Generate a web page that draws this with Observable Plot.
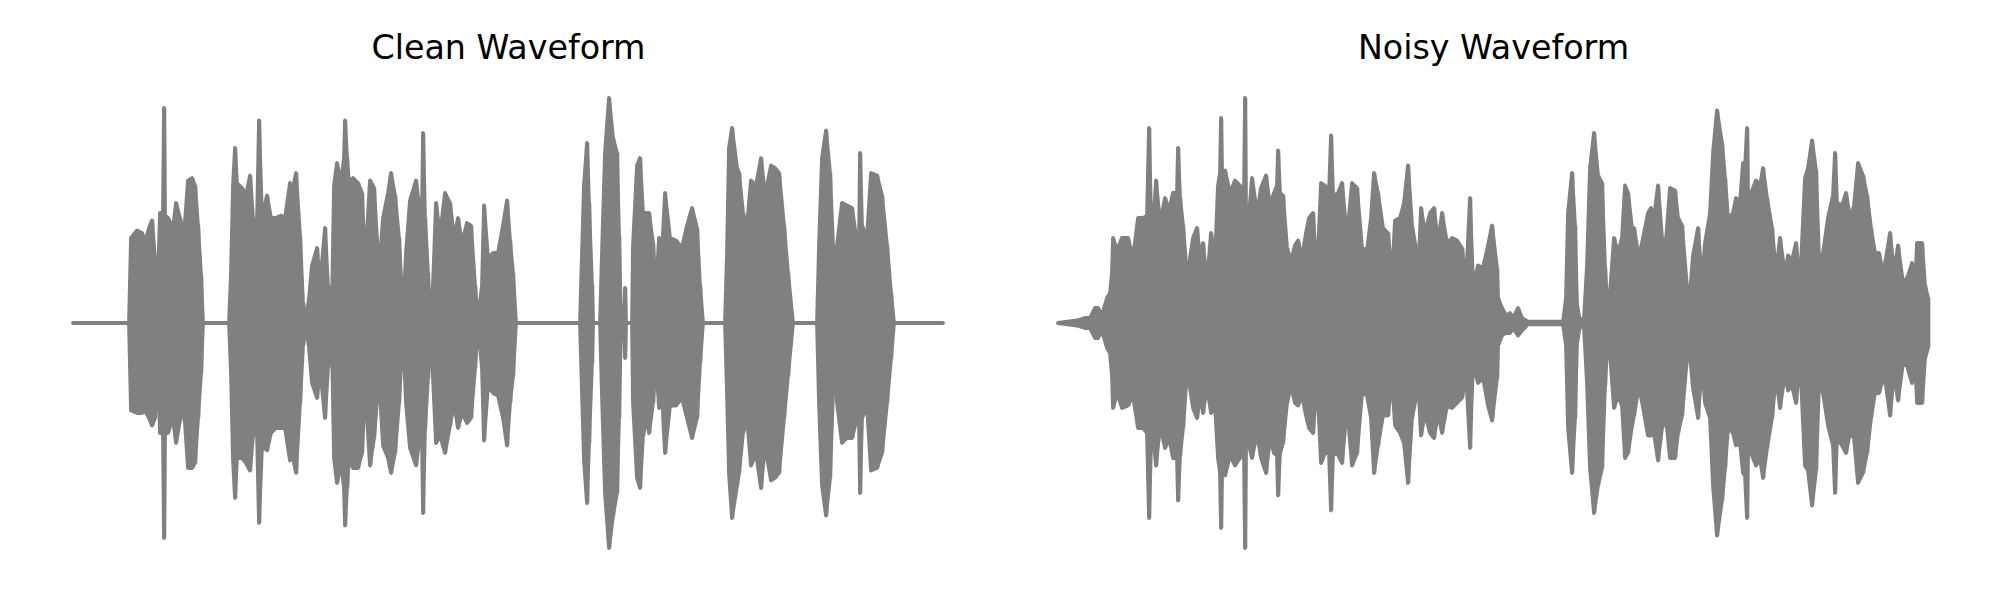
<!DOCTYPE html>
<html>
<head>
<meta charset="utf-8">
<script src="https://cdn.jsdelivr.net/npm/d3@7"></script>
<script src="https://cdn.jsdelivr.net/npm/@observablehq/plot@0.6"></script>
<style>
  html, body { margin: 0; padding: 0; background: #ffffff; }
  #wrap { display: flex; width: 2000px; height: 600px; }
  #wrap > div { width: 1000px; height: 600px; }
</style>
</head>
<body>
<div id="wrap"><div id="left"></div><div id="right"></div></div>
<script>
// ---- Panel titles ----
const titles = ["Clean Waveform", "Noisy Waveform"];

// ---- Clean waveform envelope: time (s), upper peak, lower peak (normalised amplitude) ----
const cleanTime = [
  0.00, 0.56, 0.58, 0.64, 0.69, 0.72, 0.76, 0.79, 0.82, 0.85, 0.87, 0.90, 0.91, 0.92, 0.95, 1.00, 1.03, 1.07, 1.11, 1.15, 1.19, 1.22, 1.25, 1.28, 1.30,
  1.56, 1.58, 1.60, 1.62, 1.64, 1.69, 1.73, 1.77, 1.80, 1.84, 1.86, 1.89, 1.94, 1.98, 2.03, 2.08, 2.12,
  2.17, 2.19, 2.23, 2.27, 2.30, 2.33, 2.36, 2.39, 2.44, 2.47, 2.52, 2.55, 2.59,
  2.61, 2.64, 2.68, 2.71, 2.72, 2.74, 2.76, 2.80, 2.85, 2.89, 2.92, 2.97, 3.01, 3.06, 3.10, 3.15, 3.18, 3.22, 3.26, 3.30,
  3.33, 3.37, 3.43, 3.47, 3.49, 3.50, 3.52, 3.55, 3.57,
  3.60, 3.63, 3.67, 3.72, 3.77, 3.81, 3.85, 3.89, 3.94, 3.98, 4.02, 4.05,
  4.09, 4.11, 4.15, 4.20, 4.25, 4.30, 4.34, 4.37, 4.40, 4.43,
  5.07, 5.09, 5.11, 5.14, 5.16, 5.19, 5.20,
  5.27, 5.29, 5.32, 5.36, 5.40, 5.44, 5.46, 5.48, 5.51, 5.52, 5.53,
  5.59, 5.60, 5.64, 5.67, 5.70, 5.74, 5.76, 5.80, 5.83, 5.86, 5.89, 5.92, 5.97, 6.03, 6.09, 6.14, 6.19, 6.24, 6.27, 6.30,
  6.52, 6.54, 6.56, 6.59, 6.64, 6.66, 6.70, 6.74, 6.78, 6.83, 6.88, 6.92, 6.98, 7.02, 7.06, 7.11, 7.15, 7.20,
  7.44, 7.46, 7.49, 7.53, 7.57, 7.60, 7.62, 7.64, 7.69, 7.74, 7.79, 7.84, 7.86, 7.87, 7.89, 7.94, 7.98, 8.04, 8.09, 8.14, 8.18, 8.21, 8.70
];
const cleanUpper = [
  0, 0, 0.34, 0.37, 0.36, 0.32, 0.38, 0.41, 0.26, 0.17, 0.44, 0.44, 0.86, 0.43, 0.42, 0.38, 0.48, 0.42, 0.35, 0.57, 0.58, 0.55, 0.39, 0.19, 0,
  0, 0.20, 0.55, 0.70, 0.56, 0.54, 0.51, 0.59, 0.42, 0.40, 0.81, 0.42, 0.51, 0.42, 0.42, 0.43, 0.42,
  0.56, 0.52, 0.60, 0.35, 0.08, 0.01, 0.10, 0.23, 0.30, 0.15, 0.38, 0.15, 0.08,
  0.55, 0.64, 0.56, 0.66, 0.81, 0.66, 0.56, 0.58, 0.56, 0.52, 0.23, 0.57, 0.54, 0.20, 0.42, 0.52, 0.60, 0.51, 0.34, 0.03,
  0.28, 0.49, 0.57, 0.44, 0.44, 0.76, 0.42, 0.20, 0.01,
  0.15, 0.48, 0.35, 0.52, 0.48, 0.34, 0.42, 0.32, 0.40, 0.39, 0.15, 0.01,
  0.15, 0.47, 0.26, 0.28, 0.28, 0.39, 0.49, 0.33, 0.20, 0,
  0, 0.28, 0.55, 0.72, 0.48, 0.15, 0,
  0, 0.28, 0.68, 0.90, 0.74, 0.68, 0.35, 0, 0, 0.14, 0,
  0, 0.31, 0.63, 0.66, 0.44, 0.44, 0.44, 0.32, 0.12, 0.34, 0.28, 0.52, 0.34, 0.33, 0.30, 0.39, 0.46, 0.38, 0.15, 0,
  0, 0.28, 0.70, 0.78, 0.62, 0.60, 0.44, 0.39, 0.57, 0.55, 0.66, 0.51, 0.63, 0.62, 0.60, 0.39, 0.20, 0,
  0, 0.31, 0.66, 0.77, 0.60, 0.31, 0.03, 0.31, 0.48, 0.47, 0.46, 0.32, 0.32, 0.68, 0.39, 0.34, 0.60, 0.59, 0.51, 0.31, 0.12, 0, 0
];
const cleanLower = [
  0, 0, -0.35, -0.36, -0.36, -0.35, -0.38, -0.41, -0.38, -0.18, -0.44, -0.44, -0.86, -0.44, -0.44, -0.38, -0.48, -0.39, -0.34, -0.58, -0.58, -0.56, -0.38, -0.20, 0,
  0, -0.20, -0.55, -0.70, -0.54, -0.54, -0.56, -0.59, -0.45, -0.44, -0.80, -0.49, -0.51, -0.44, -0.42, -0.42, -0.42,
  -0.55, -0.52, -0.60, -0.32, -0.09, -0.01, -0.10, -0.24, -0.30, -0.18, -0.38, -0.18, -0.09,
  -0.54, -0.64, -0.56, -0.66, -0.81, -0.66, -0.54, -0.58, -0.58, -0.52, -0.25, -0.57, -0.46, -0.21, -0.49, -0.54, -0.60, -0.52, -0.32, -0.03,
  -0.32, -0.50, -0.57, -0.45, -0.45, -0.76, -0.42, -0.22, -0.01,
  -0.22, -0.48, -0.45, -0.52, -0.41, -0.32, -0.42, -0.36, -0.40, -0.38, -0.18, -0.01,
  -0.18, -0.47, -0.25, -0.28, -0.29, -0.38, -0.49, -0.32, -0.21, 0,
  0, -0.28, -0.55, -0.72, -0.48, -0.16, 0,
  0, -0.29, -0.68, -0.90, -0.77, -0.68, -0.38, 0, 0, -0.14, 0,
  0, -0.32, -0.62, -0.66, -0.45, -0.38, -0.44, -0.32, -0.14, -0.34, -0.29, -0.52, -0.33, -0.33, -0.30, -0.38, -0.46, -0.38, -0.16, 0,
  0, -0.28, -0.60, -0.78, -0.65, -0.60, -0.44, -0.38, -0.57, -0.52, -0.66, -0.49, -0.63, -0.62, -0.60, -0.38, -0.21, 0,
  0, -0.32, -0.65, -0.77, -0.62, -0.28, -0.03, -0.32, -0.48, -0.46, -0.46, -0.38, -0.38, -0.68, -0.38, -0.33, -0.59, -0.58, -0.52, -0.32, -0.14, 0, 0
];

// ---- Noisy waveform envelope ----
const noisyTime = [
  0.00, 0.19, 0.27, 0.32, 0.37, 0.40, 0.44, 0.49, 0.52, 0.54, 0.55, 0.59, 0.64, 0.70, 0.75, 0.80, 0.85, 0.89, 0.91, 0.93, 0.96, 0.98,
  1.02, 1.07, 1.11, 1.15, 1.19, 1.20, 1.22, 1.25, 1.30, 1.32, 1.35, 1.39, 1.42, 1.45, 1.49, 1.53, 1.57,
  1.60, 1.62, 1.63, 1.64, 1.67, 1.72, 1.77, 1.82, 1.86, 1.87, 1.88, 1.91, 1.94, 1.99, 2.03, 2.08, 2.12,
  2.16, 2.19, 2.20, 2.22, 2.25, 2.29, 2.33, 2.37, 2.40, 2.44, 2.48, 2.51, 2.55, 2.59,
  2.63, 2.67, 2.71, 2.73, 2.75, 2.79, 2.84, 2.89, 2.94, 2.99, 3.04, 3.09, 3.13, 3.16, 3.20, 3.25, 3.30, 3.34,
  3.37, 3.42, 3.46, 3.50, 3.54, 3.57, 3.60, 3.63, 3.67, 3.72, 3.76, 3.80, 3.84, 3.89, 3.94, 3.99, 4.04, 4.08,
  4.12, 4.15, 4.20, 4.25, 4.30, 4.34, 4.39, 4.40, 4.44, 4.48, 4.52, 4.55, 4.60, 4.64, 4.70, 5.05,
  5.08, 5.10, 5.14, 5.17, 5.19, 5.22, 5.26, 5.29, 5.32, 5.36, 5.40, 5.44, 5.47, 5.50,
  5.52, 5.56, 5.60, 5.64, 5.67, 5.70, 5.74, 5.76, 5.81, 5.86, 5.90, 5.93, 5.96, 6.00, 6.04, 6.08, 6.12, 6.17, 6.20, 6.24,
  6.29, 6.32, 6.35, 6.40, 6.44, 6.47, 6.52, 6.55, 6.59, 6.64, 6.67, 6.70, 6.75, 6.78, 6.82, 6.85, 6.87, 6.89, 6.90, 6.93,
  6.98, 7.02, 7.05, 7.09, 7.14, 7.18, 7.22, 7.27, 7.30, 7.34, 7.38, 7.42,
  7.47, 7.50, 7.54, 7.58, 7.61, 7.65, 7.70, 7.75, 7.77, 7.79, 7.84, 7.88, 7.92, 7.96, 8.00, 8.05, 8.09, 8.13,
  8.17, 8.21, 8.25, 8.28, 8.32, 8.36, 8.40, 8.45, 8.49, 8.51, 8.54, 8.57, 8.59, 8.64, 8.67, 8.70
];
const noisyUpper = [
  0, 0.01, 0.02, 0.02, 0.06, 0.06, 0.03, 0.10, 0.12, 0.20, 0.34, 0.29, 0.34, 0.34, 0.26, 0.42, 0.42, 0.43, 0.78, 0.43, 0.44, 0.57,
  0.40, 0.50, 0.45, 0.52, 0.52, 0.70, 0.50, 0.39, 0.14, 0.26, 0.34, 0.38, 0.26, 0.32, 0.16, 0.36, 0.25,
  0.55, 0.60, 0.82, 0.60, 0.61, 0.52, 0.57, 0.55, 0.51, 0.90, 0.44, 0.43, 0.58, 0.44, 0.54, 0.59, 0.47,
  0.52, 0.55, 0.69, 0.52, 0.51, 0.30, 0.25, 0.31, 0.33, 0.26, 0.36, 0.42, 0.44, 0.18,
  0.56, 0.55, 0.52, 0.75, 0.52, 0.51, 0.56, 0.34, 0.56, 0.54, 0.30, 0.29, 0.42, 0.60, 0.52, 0.38, 0.36, 0.18,
  0.41, 0.42, 0.48, 0.63, 0.39, 0.32, 0.18, 0.46, 0.36, 0.44, 0.46, 0.32, 0.44, 0.32, 0.34, 0.33, 0.30, 0.16,
  0.50, 0.15, 0.23, 0.22, 0.31, 0.39, 0.22, 0.10, 0.06, 0.03, 0.04, 0.02, 0.06, 0.02, 0.005, 0.005,
  0.10, 0.44, 0.60, 0.39, 0.07, 0.01, 0.02, 0.23, 0.62, 0.76, 0.59, 0.56, 0.22, 0.03,
  0.12, 0.34, 0.28, 0.34, 0.55, 0.52, 0.38, 0.38, 0.26, 0.36, 0.44, 0.46, 0.42, 0.55, 0.34, 0.33, 0.54, 0.53, 0.42, 0.39,
  0.14, 0.12, 0.27, 0.38, 0.16, 0.32, 0.44, 0.68, 0.85, 0.72, 0.58, 0.42, 0.44, 0.50, 0.48, 0.64, 0.62, 0.78, 0.52, 0.52,
  0.57, 0.55, 0.62, 0.50, 0.38, 0.20, 0.34, 0.19, 0.27, 0.25, 0.32, 0.15,
  0.58, 0.62, 0.73, 0.61, 0.26, 0.28, 0.42, 0.51, 0.68, 0.48, 0.47, 0.52, 0.42, 0.47, 0.64, 0.59, 0.51, 0.38,
  0.28, 0.28, 0.20, 0.26, 0.36, 0.20, 0.31, 0.16, 0.18, 0.20, 0.24, 0.12, 0.32, 0.32, 0.15, 0.10
];
const noisyLower = [
  0, -0.01, -0.02, -0.02, -0.06, -0.06, -0.03, -0.10, -0.12, -0.21, -0.34, -0.28, -0.34, -0.33, -0.29, -0.42, -0.42, -0.44, -0.78, -0.49, -0.48, -0.57,
  -0.41, -0.50, -0.46, -0.54, -0.54, -0.71, -0.53, -0.42, -0.14, -0.26, -0.34, -0.38, -0.29, -0.36, -0.25, -0.36, -0.33,
  -0.54, -0.60, -0.82, -0.60, -0.61, -0.53, -0.57, -0.54, -0.52, -0.90, -0.49, -0.49, -0.54, -0.44, -0.54, -0.60, -0.46,
  -0.52, -0.53, -0.69, -0.52, -0.48, -0.32, -0.25, -0.32, -0.33, -0.29, -0.37, -0.42, -0.44, -0.22,
  -0.56, -0.52, -0.52, -0.75, -0.53, -0.52, -0.56, -0.33, -0.57, -0.52, -0.28, -0.29, -0.38, -0.60, -0.49, -0.37, -0.37, -0.22,
  -0.41, -0.44, -0.48, -0.64, -0.38, -0.32, -0.22, -0.45, -0.36, -0.44, -0.46, -0.36, -0.44, -0.33, -0.34, -0.32, -0.30, -0.20,
  -0.50, -0.16, -0.24, -0.22, -0.33, -0.39, -0.22, -0.09, -0.05, -0.04, -0.04, -0.02, -0.05, -0.03, -0.005, -0.005,
  -0.09, -0.42, -0.60, -0.38, -0.08, -0.01, -0.02, -0.24, -0.58, -0.76, -0.65, -0.58, -0.25, -0.04,
  -0.12, -0.34, -0.29, -0.33, -0.54, -0.52, -0.41, -0.37, -0.25, -0.36, -0.45, -0.45, -0.44, -0.55, -0.42, -0.38, -0.54, -0.54, -0.44, -0.37,
  -0.14, -0.13, -0.26, -0.38, -0.16, -0.32, -0.38, -0.65, -0.85, -0.71, -0.58, -0.42, -0.44, -0.49, -0.48, -0.60, -0.61, -0.78, -0.52, -0.52,
  -0.57, -0.54, -0.62, -0.50, -0.38, -0.21, -0.34, -0.20, -0.27, -0.25, -0.32, -0.14,
  -0.57, -0.59, -0.73, -0.59, -0.25, -0.28, -0.41, -0.49, -0.68, -0.46, -0.49, -0.52, -0.44, -0.46, -0.64, -0.60, -0.52, -0.38,
  -0.28, -0.28, -0.22, -0.25, -0.37, -0.20, -0.31, -0.16, -0.17, -0.20, -0.24, -0.14, -0.32, -0.32, -0.14, -0.10
];

const duration = 8.7;
const waveColor = "#808080";

function panel(title, time, upper, lower, mLeft, mRight) {
  if (time.length !== upper.length || time.length !== lower.length) {
    throw new Error(title + ": length mismatch " + time.length + " " + upper.length + " " + lower.length);
  }
  const rows = time.map((t, i) => ({t, hi: upper[i], lo: lower[i]}));
  return Plot.plot({
    width: 1000,
    height: 600,
    marginLeft: mLeft,
    marginRight: mRight,
    marginTop: 73,
    marginBottom: 27,
    x: {domain: [0, duration], axis: null},
    y: {domain: [-1, 1], axis: null},
    style: {background: "#ffffff", fontFamily: "'DejaVu Sans', sans-serif", overflow: "visible"},
    marks: [
      Plot.areaY(rows, {x: "t", y1: "lo", y2: "hi", fill: waveColor, stroke: waveColor, strokeWidth: 3.8, strokeLinejoin: "round"}),
      Plot.ruleX(rows, {x: "t", y1: "lo", y2: "hi", stroke: waveColor, strokeWidth: 3.6}),
      Plot.text([title], {text: d => d, frameAnchor: "top", dy: -15, lineAnchor: "bottom",
        fontSize: 33.3, fill: "#000000", fontFamily: "'DejaVu Sans', sans-serif"})
    ]
  });
}

document.getElementById("left").appendChild(panel(titles[0], cleanTime, cleanUpper, cleanLower, 73, 57));
document.getElementById("right").appendChild(panel(titles[1], noisyTime, noisyUpper, noisyLower, 58, 72));
</script>
</body>
</html>
